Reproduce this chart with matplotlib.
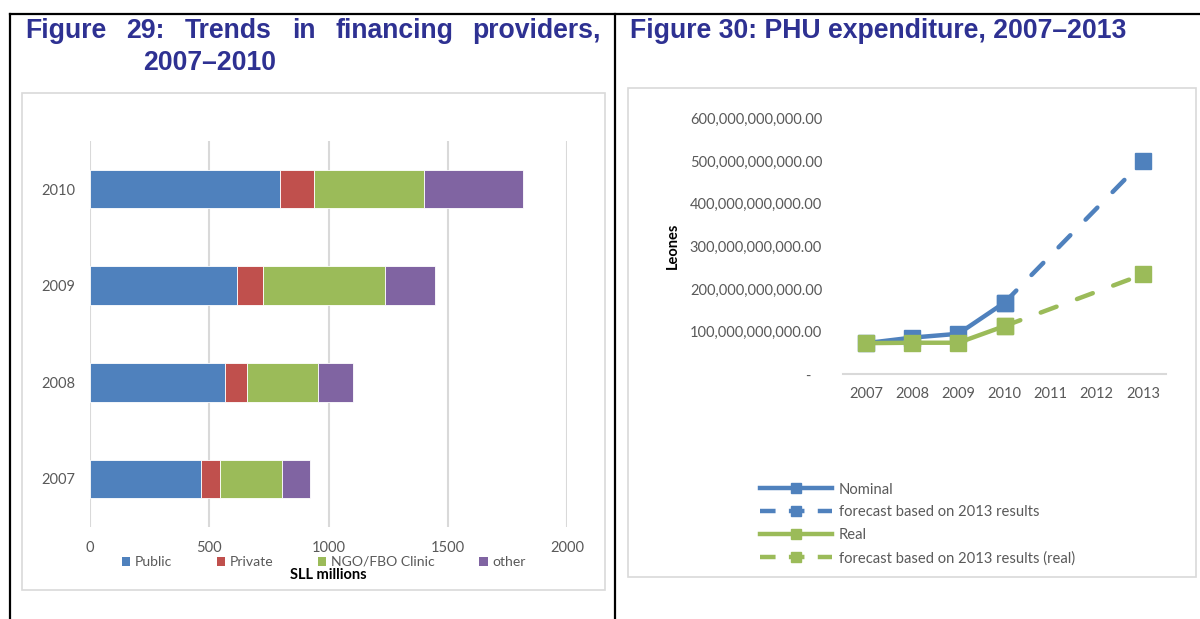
import matplotlib
matplotlib.use('Agg')
import matplotlib.pyplot as plt
import numpy as np
from matplotlib.lines import Line2D
from matplotlib.patches import Patch, Rectangle

# ---- data: figure 29 (SLL millions) ----
years_29 = ['2007', '2008', '2009', '2010']
public = [464, 564, 615, 795]
private = [82, 96, 109, 146]
ngo = [259, 295, 514, 461]
other = [119, 146, 209, 414]
providers = ['Public', 'Private', 'NGO/FBO Clinic', 'other']

# ---- data: figure 30 (Leones) ----
years_30 = ['2007', '2008', '2009', '2010', '2011', '2012', '2013']
nominal = [73e9, 86e9, 95e9, 168e9]            # 2007-2010
real = [73e9, 74e9, 74e9, 113e9]               # 2007-2010
forecast_years = ['2010', '2013']
forecast_nominal = [168e9, 500e9]
forecast_real = [113e9, 234e9]

blue = '#4F81BD'
red = '#C0504D'
green = '#9BBB59'
purple = '#8064A2'
title_col = '#2E3192'
tick_col = '#595959'
grid_col = '#D9D9D9'

W, H = 1200, 619


def px(l, t, r, b):
    return [l / W, 1 - b / H, (r - l) / W, (b - t) / H]


def fx(x):
    return x / W


def fy(y):
    return 1 - y / H


fig = plt.figure(figsize=(12, 6.19), dpi=100)

# table borders
fig.add_artist(Line2D([fx(10), 1], [fy(14), fy(14)], color='black', lw=1.6))
fig.add_artist(Line2D([fx(10), fx(10)], [fy(14), 0], color='black', lw=1.6))
fig.add_artist(Line2D([fx(615), fx(615)], [fy(14), 0], color='black', lw=1.6))

# chart frames
for (l, t, r, b) in [(22, 93, 605, 590), (628, 88, 1196, 577)]:
    fig.add_artist(Rectangle((fx(l), fy(b)), fx(r - l), (b - t) / H,
                             fill=False, edgecolor=grid_col, lw=1.2))

# titles
tfont = dict(family='Liberation Sans', weight='bold', size=19.2, color=title_col)
words = [('Figure', 25), ('29:', 126), ('Trends', 185), ('in', 292),
         ('financing', 335), ('providers,', 472)]
for w, x in words:
    fig.text(fx(x), fy(38), w, ha='left', va='baseline', **tfont)
fig.text(fx(143), fy(70), '2007\u20132010', ha='left', va='baseline', **tfont)
fig.text(fx(630), fy(38), 'Figure 30: PHU expenditure, 2007\u20132013',
         ha='left', va='baseline', **tfont)

plt.rcParams['font.family'] = ['Lato', 'DejaVu Sans']
fs = 10.5

# ---- left: stacked horizontal bars ----
ax1 = fig.add_axes(px(90, 140.7, 567, 527.3))
y = np.arange(len(years_29))
left = np.zeros(len(years_29))
for vals, col in zip([public, private, ngo, other], [blue, red, green, purple]):
    ax1.barh(y, vals, left=left, height=0.4, color=col, edgecolor='white',
             linewidth=0.6, zorder=3)
    left = left + np.array(vals)
ax1.set_xlim(0, 2000)
ax1.set_ylim(-0.5, 3.5)
ax1.set_xticks([0, 500, 1000, 1500, 2000])
ax1.set_yticks(y)
ax1.set_yticklabels(years_29)
ax1.grid(axis='x', color=grid_col, lw=1.5, zorder=0)
for s in ax1.spines.values():
    s.set_visible(False)
ax1.tick_params(axis='both', length=0, labelsize=fs, labelcolor=tick_col)
ax1.tick_params(axis='x', pad=10)
ax1.tick_params(axis='y', pad=10.5)

handles = [Patch(facecolor=c, edgecolor='none') for c in [blue, red, green, purple]]
fig.legend(handles, providers, loc='center left', bbox_to_anchor=(fx(122), fy(562)),
           ncol=4, frameon=False, fontsize=10.1, handlelength=0.6, handleheight=0.6,
           handletextpad=0.3, columnspacing=3.2, borderpad=0, borderaxespad=0,
           labelcolor=tick_col)
fig.text(fx(328), fy(575), 'SLL millions', ha='center', va='center',
         fontsize=fs, weight='bold', color='black')

# ---- right: line chart ----
ax2 = fig.add_axes(px(843, 118.3, 1166, 374.3))
xpos = {yr: i for i, yr in enumerate(years_30)}
xs = [xpos[v] for v in years_30[:len(nominal)]]
fx_pos = [xpos[v] for v in forecast_years]
dash = (0, (3.8, 4.9))
ax2.plot(fx_pos, forecast_nominal, color=blue, lw=3.2, ls=dash, dash_capstyle='round',
         marker='s', markersize=11, zorder=2)
ax2.plot(fx_pos, forecast_real, color=green, lw=3.2, ls=dash, dash_capstyle='round',
         marker='s', markersize=11, zorder=2)
ax2.plot(xs, nominal, color=blue, lw=3.2, marker='s', markersize=11, zorder=3)
ax2.plot(xs, real, color=green, lw=3.2, marker='s', markersize=11, zorder=4)
ax2.set_xlim(-0.5, 6.5)
ax2.set_ylim(0, 600e9)
ax2.set_xticks(range(len(years_30)))
ax2.set_xticklabels(years_30)
yt = np.arange(0, 700e9, 100e9)
ax2.set_yticks(yt)
ax2.set_yticklabels(['-   '] + ['{:,.2f}'.format(v) for v in yt[1:]])
for k in ['top', 'right', 'left']:
    ax2.spines[k].set_visible(False)
ax2.spines['bottom'].set_color(grid_col)
ax2.spines['bottom'].set_linewidth(1.5)
ax2.tick_params(axis='both', length=0, labelsize=fs, labelcolor=tick_col)
ax2.tick_params(axis='x', pad=9)
ax2.tick_params(axis='y', pad=15)
fig.text(fx(673), fy(246), 'Leones', rotation=90, ha='center', va='center',
         fontsize=fs, weight='bold', color='black')

lh = [Line2D([], [], color=blue, lw=3.2, marker='s', markersize=7),
      Line2D([], [], color=blue, lw=3.2, ls=(0, (3.5, 3)), marker='s', markersize=7),
      Line2D([], [], color=green, lw=3.2, marker='s', markersize=7),
      Line2D([], [], color=green, lw=3.2, ls=(0, (3.5, 3)), marker='s', markersize=7)]
ll = ['Nominal', 'forecast based on 2013 results', 'Real',
      'forecast based on 2013 results (real)']
fig.legend(lh, ll, loc='center left', bbox_to_anchor=(fx(760), fy(524)),
           frameon=False, fontsize=10.6, handlelength=4.9, handletextpad=0.45,
           labelspacing=0.6, borderpad=0, borderaxespad=0, labelcolor=tick_col,
           numpoints=1)

fig.savefig('out.png', dpi=100)
